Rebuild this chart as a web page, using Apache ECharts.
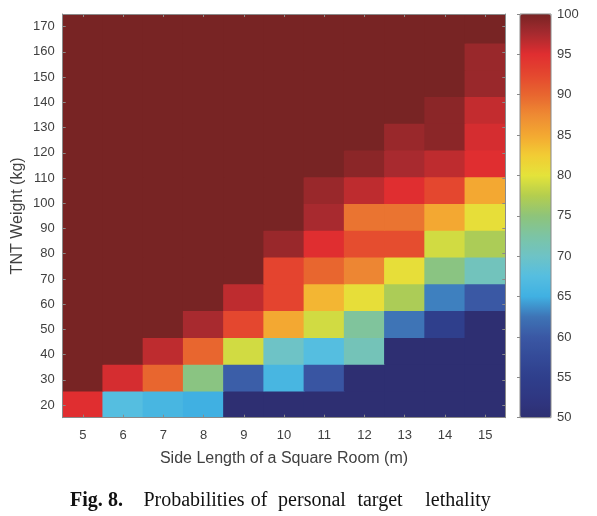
<!DOCTYPE html>
<html>
<head>
<meta charset="utf-8">
<script src="https://cdn.jsdelivr.net/npm/echarts@6/dist/echarts.min.js"></script>
<style>
html,body{margin:0;padding:0;background:#fff;}
#chart{width:597px;height:516px;}
</style>
</head>
<body>
<div id="chart"></div>
<script>
// Side length of a square room (m) — x categories
const sideLength = ['5','6','7','8','9','10','11','12','13','14','15'];
// TNT weight (kg) — y categories
const tntWeight = [20,30,40,50,60,70,80,90,100,110,120,130,140,150,160,170];
// Colorbar tick labels
const colorTicks = [50,55,60,65,70,75,80,85,90,95,100];

// Lethality probability (%) for each TNT weight, columns = side length 5..15
const kg20  = [95, 67.5, 66, 65, 50, 50, 50, 50, 50, 50, 50];
const kg30  = [100, 95.5, 90, 74.5, 60.5, 66, 59.5, 50, 50, 50, 50];
const kg40  = [100, 100, 96.5, 90, 79, 70, 67.5, 71, 50, 50, 50];
const kg50  = [100, 100, 100, 97.5, 92.5, 85, 79, 73, 62.5, 55, 50];
const kg60  = [100, 100, 100, 100, 96.5, 92.8, 84, 80.5, 77, 63, 60];
const kg70  = [100, 100, 100, 100, 100, 92.8, 90, 87.8, 80.5, 74.5, 70.7];
const kg80  = [100, 100, 100, 100, 100, 98.3, 95, 92, 92, 79, 77];
const kg90  = [100, 100, 100, 100, 100, 100, 97.5, 89, 89, 85, 80.5];
const kg100 = [100, 100, 100, 100, 100, 100, 98.3, 96.5, 95, 92.5, 85];
const kg110 = [100, 100, 100, 100, 100, 100, 100, 99, 97.5, 96.5, 95];
const kg120 = [100, 100, 100, 100, 100, 100, 100, 100, 98.3, 99, 95.5];
const kg130 = [100, 100, 100, 100, 100, 100, 100, 100, 100, 99, 96.3];
const kg140 = [100, 100, 100, 100, 100, 100, 100, 100, 100, 100, 98.3];
const kg150 = [100, 100, 100, 100, 100, 100, 100, 100, 100, 100, 98.3];
const kg160 = [100, 100, 100, 100, 100, 100, 100, 100, 100, 100, 100];
const kg170 = [100, 100, 100, 100, 100, 100, 100, 100, 100, 100, 100];
const rows = [kg20, kg30, kg40, kg50, kg60, kg70, kg80, kg90, kg100, kg110, kg120, kg130, kg140, kg150, kg160, kg170];

const cells = [];
rows.forEach((row, r) => row.forEach((v, c) => cells.push([c, tntWeight[r], v])));

const palette = ['#2E2F72','#2F3782','#2F3F8C','#344A98','#3A58A4','#3E74B6','#40B0E2','#55BEE0',
  '#6EC3C6','#7CC4A4','#8EC47A','#B4CE4E','#E4E33A','#F2CC34','#F3A832','#EE8A33','#E8662F',
  '#E4472F','#E02E30','#A82A2F','#782424'];

const txt = '#404040';
const lineCol = '#8a8a8a';
const sans = 'Liberation Sans, Arial, sans-serif';
const serif = '"Liberation Serif", serif';

const chart = echarts.init(document.getElementById('chart'), null, {renderer:'canvas'});
chart.setOption({
  backgroundColor: '#ffffff',
  animation: false,
  textStyle: {fontFamily: sans},
  grid: [
    {left: 62.7, top: 14, width: 442.6, height: 403.7},
    {left: 520, top: 14, width: 31, height: 403.7, show: true, borderColor: lineCol, borderWidth: 1, z: 10}
  ],
  xAxis: [
    {type:'category', gridIndex:0, data: sideLength, position:'bottom', z: 5,
     axisLine:{show:true, lineStyle:{color:lineCol, width:1}},
     axisTick:{show:true, inside:true, alignWithLabel:true, length:3, interval:0, lineStyle:{color:lineCol}},
     axisLabel:{color:txt, fontSize:13, margin:11, interval:0, fontFamily:sans},
     name:'Side Length of a Square Room (m)', nameLocation:'middle', nameGap:33,
     nameTextStyle:{color:txt, fontSize:16, fontFamily:sans},
     splitLine:{show:false}},
    {type:'category', gridIndex:0, data: sideLength, position:'top', z: 5,
     axisLine:{show:true, lineStyle:{color:lineCol, width:1}},
     axisTick:{show:true, inside:true, alignWithLabel:true, length:3, interval:0, lineStyle:{color:lineCol}},
     axisLabel:{show:false}, splitLine:{show:false}},
    {type:'value', gridIndex:1, min:0, max:1, show:false}
  ],
  yAxis: [
    {type:'category', gridIndex:0, data: tntWeight.map(String), position:'left', z: 5,
     axisLine:{show:true, lineStyle:{color:lineCol, width:1}},
     axisTick:{show:true, inside:true, alignWithLabel:true, length:3, interval:0, lineStyle:{color:lineCol}},
     axisLabel:{color:txt, fontSize:13, margin:8, interval:0, fontFamily:sans},
     name:'TNT Weight (kg)', nameLocation:'middle', nameGap:37, nameMoveOverlap:false,
     nameTextStyle:{color:txt, fontSize:16, fontFamily:sans},
     splitLine:{show:false}},
    {type:'category', gridIndex:0, data: tntWeight.map(String), position:'right', z: 5,
     axisLine:{show:true, lineStyle:{color:lineCol, width:1}},
     axisTick:{show:true, inside:true, alignWithLabel:true, length:3, interval:0, lineStyle:{color:lineCol}},
     axisLabel:{show:false}, splitLine:{show:false}},
    {type:'value', gridIndex:0, min:15, max:165.8, show:false},
    {type:'value', gridIndex:1, min:colorTicks[0], max:colorTicks[colorTicks.length-1], interval:5, position:'right', z: 11,
     axisLine:{show:false},
     axisTick:{show:true, inside:true, length:3, lineStyle:{color:lineCol}},
     axisLabel:{color:txt, fontSize:13, margin:6, fontFamily:sans},
     splitLine:{show:false}}
  ],
  visualMap: {
    type:'continuous', min:50, max:100, dimension:2, seriesIndex:0,
    calculable:false, hoverLink:false, orient:'vertical',
    left:520, top:14, itemWidth:31, itemHeight:403.7, padding:0,
    inRange:{color: palette}, text:null, z: 4
  },
  series: [{
    type:'custom', xAxisIndex:0, yAxisIndex:2, clip:true,
    data: cells,
    encode:{x:0, y:1},
    renderItem: function(params, api){
      const xi = api.value(0), yv = api.value(1);
      const lo = api.coord([xi, yv - 5]);
      const hi = api.coord([xi, yv + 5]);
      const w = api.size([1, 0])[0];
      return {type:'rect',
        shape:{x: lo[0] - w/2 - 0.5, y: hi[1] - 0.5, width: w + 1, height: lo[1] - hi[1] + 1},
        style:{fill: api.visual('color'), stroke: null}};
    }
  }],
  graphic: [
    {type:'text', x:70, y:501, style:{text:'Fig.', font:'bold 20px ' + serif, fill:'#111', align:'left', verticalAlign:'middle'}},
    {type:'text', x:108, y:501, style:{text:'8.', font:'bold 20px ' + serif, fill:'#111', align:'left', verticalAlign:'middle'}},
    {type:'text', x:194, y:501, style:{text:'Probabilities', font:'20px ' + serif, fill:'#111', align:'center', verticalAlign:'middle'}},
    {type:'text', x:259, y:501, style:{text:'of', font:'20px ' + serif, fill:'#111', align:'center', verticalAlign:'middle'}},
    {type:'text', x:312, y:501, style:{text:'personal', font:'20px ' + serif, fill:'#111', align:'center', verticalAlign:'middle'}},
    {type:'text', x:380, y:501, style:{text:'target', font:'20px ' + serif, fill:'#111', align:'center', verticalAlign:'middle'}},
    {type:'text', x:458, y:501, style:{text:'lethality', font:'20px ' + serif, fill:'#111', align:'center', verticalAlign:'middle'}}
  ]
});
</script>
</body>
</html>
